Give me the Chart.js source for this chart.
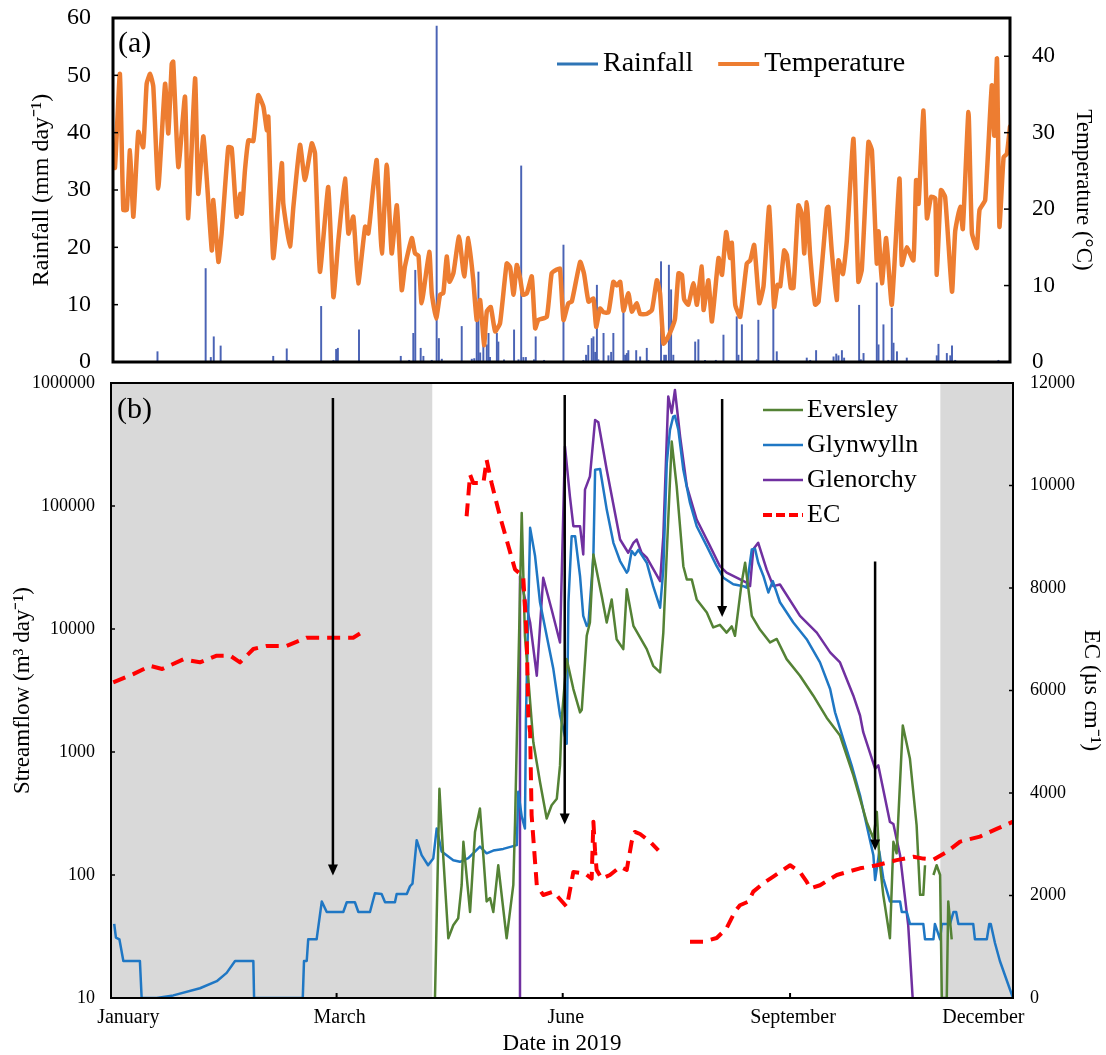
<!DOCTYPE html>
<html>
<head>
<meta charset="utf-8">
<script src="https://cdn.jsdelivr.net/npm/chart.js@4.4.0/dist/chart.umd.min.js"></script>
<style>
  body { margin: 0; background: #fff; }
  #wrap { position: relative; width: 1106px; height: 1055px; }
  canvas { position: absolute; left: 0; }
  #rain-chart { top: 0; }
  #flow-chart { top: 365px; }
</style>
</head>
<body>
<div id="wrap">
  <canvas id="rain-chart" width="1106" height="380"></canvas>
  <canvas id="flow-chart" width="1106" height="690"></canvas>
</div>
<script>
// ---- panel (a): daily rainfall and temperature (x = day of the year) ----
const rainDays = [18.1,37.7,39.8,41,43.8,65.2,70.7,71.5,84.7,89.7,90.8,91.5,100.1,117.1,120.5,122.2,123,125.2,126.3,129.7,131.7,132.6,133.8,141.9,146,147,148,148.7,149.4,150.7,152.1,152.8,153.4,156.2,156.8,159.1,163.2,165,166.1,167,168,171.3,172,175.4,183.3,191.4,192.5,193.4,194.8,195.5,196.2,196.9,197.5,199.6,201.6,202.7,203.6,207.7,208.4,209.1,209.7,212.9,214.5,217.2,217.9,223,224.3,225,226.2,227.1,228,236.9,238.2,240.9,245.3,248.4,253.8,254.5,255.9,262,262.6,268.7,270.1,270.8,282.3,283.7,286.1,293.2,294.3,295.2,296.6,297.5,303.6,304.3,305.4,310.8,311.5,313.5,315.5,316.9,317.6,319,323,335.2,335.9,339.3,340.7,341.4,342.7,360.3];
const rainValues = [1.8,16.3,0.8,4.4,2.8,1,2.3,0.3,9.7,0.3,2.2,2.4,5.6,1,0.3,5,16,2.4,1,0.3,58.6,4.1,0.5,6.2,0.5,0.6,7.3,15.7,1.6,3.5,3,5,0.8,5,3.5,0.4,5.6,0.4,34.2,0.8,0.8,0.4,4.4,0.3,20.4,0.3,1.2,2.9,4.1,4.4,1.7,13.4,0.4,5,1.1,1.7,5,10.8,1.2,1.5,2,2,0.9,2.4,0.3,17.5,1.2,1.2,16.9,12.6,1.2,3.5,3.9,0.3,0.3,4.7,7.9,1.2,6.5,0.4,7.3,9.4,1.8,0.3,0.7,0.3,2,0.9,1.4,1.1,2,0.7,9.9,0.4,1.5,13.8,3,6.5,0.3,9.4,3.3,1.8,0.7,1.1,3.1,1.5,1.1,2.8,0.3,0.3];

const tempDays = [0,0.8,2.8,4.2,5.6,6.9,8.3,10.3,12.3,13.7,15.1,16.4,18.4,21.2,22.5,23.9,24.5,26.6,29.3,30.6,33.4,34.7,36.8,40.2,40.8,42.9,44.2,46.9,48.3,50.3,51.7,52.4,53.7,55.1,57.1,59.1,61.2,62.6,63.2,65.2,68.7,69.3,72,73.4,76.1,78.1,80.9,82.2,84.2,87.6,89.7,91.7,94.4,95.8,97.8,99.8,102.6,103.9,105.9,107.3,109.4,111.4,113.4,115.5,117.5,118.8,121.6,122.9,124.3,125.6,128.7,129.7,131.5,133.1,134.4,135.8,136.9,138.5,140.8,142.9,144.6,146.6,148,149.4,151,152.1,153.7,155.5,157.5,160.2,161.6,163,164.3,165.7,166.8,168.4,170.4,171.8,173.1,176.5,178.5,180.6,181.9,183.3,185.3,186.7,190.1,191.7,193.5,195.5,196.6,198.2,199.6,201.6,203.6,205,206.4,207.7,209.7,211.1,213.1,214.5,217.2,219.3,221.3,222.6,224,225.4,227.4,228.7,230.1,231.5,232.4,234.1,236.2,237.6,239.6,240.3,242.3,243.7,246.4,247.8,249.5,251.1,251.8,253.2,255.2,257.9,259.3,260.9,263,264.7,267,269,270.4,271.5,273.1,274.2,275.8,276.9,278.9,280.3,281.3,282.3,283.7,285.7,287.1,290.5,291.1,292.5,294.5,295.2,297,298.6,301.3,303.3,304.7,307.4,308.8,310.8,311.5,312.9,314.6,316.9,320,321,323,325.7,326.8,327.8,329.8,331.2,332.9,334.6,335.2,336.9,338.6,341.4,342.7,344.7,345.8,348.1,349.5,351.5,352.6,354.9,357.6,358.6,359.7,360.7,362.4,363.7,365];
const tempValues = [28.1,25.4,37.7,19.9,19.9,27.7,19.0,30.1,28.1,36.4,37.7,36,22.7,36.4,29.9,39.0,39.3,25.5,34.7,18.8,37.1,22,29.5,14.6,21.2,13.1,16.8,28.1,28,19,22,19.4,25.1,29,28.9,34.9,33.4,30.3,32.1,13.6,26,20.7,15.1,20.3,28.4,23.8,28.6,27.3,11.8,22.9,8.5,15.9,24,16.8,19,10.3,17.7,16.8,22.9,26.4,14.2,25.8,14.2,20.5,9.4,12.5,16.2,14.2,13.9,7.7,14.4,9,5.7,8.8,9,13.8,10.5,11.6,16.4,11.2,16.2,10.7,5.5,8.1,2.2,6.6,7.2,4,5.1,12.9,12.4,8.8,12.7,10.9,8.8,9,11.2,4.4,5.5,5.9,11.6,12.1,12.2,5.5,7.7,7.9,13.1,11.5,7.9,8.3,4.6,7,6.5,6.5,10.5,10,10.5,6.7,9,6.6,7.7,6.3,6.3,6.8,10.7,9,2.4,3,4.4,5.7,11.6,11.4,8.2,7.5,10.3,7.5,12.5,6.8,10.7,5.3,13.6,11.4,17,13.6,15.6,7.5,5.9,12.9,13.3,15.3,7.7,9.9,20.3,7.2,10.1,9.9,14.6,14,9.7,9.7,20.5,19.4,14.2,20.9,13.9,7.5,7.9,20.1,20.3,14.4,8.1,13.3,11.5,15.9,29.2,10.5,12.1,28.8,27.7,12.9,17.1,10.3,16.2,7.5,24,12.7,15,13.3,23.8,20.7,32.9,18.8,21.6,21.4,11.4,22.5,21.6,9.2,17.1,20.3,17.4,32.7,16.9,14.9,19.9,21.2,36.2,29.6,39.7,17.7,26.8,27.2,30.8];

const rainTicks = [0, 10, 20, 30, 40, 50, 60];
const tempTicks = [0, 10, 20, 30, 40];

// ---- panel (b): streamflow and EC ----
const glynDays = [1.3,2,3.4,5,11.7,12.4,18.5,25.2,36,42.8,46.8,50.2,57.6,57.9,77.6,78.1,79.2,79.8,83.2,85.3,87.3,94,95.4,98.7,100.1,104.8,106.8,109.5,110.9,114.9,115.6,119.7,121,122,123.7,125.7,128.3,130.4,131.8,133.8,138.5,141.2,144.6,149.3,152,154.7,158.7,164.2,164.8,166.2,167.5,167.9,169.6,171.6,173.6,176.3,179,181.7,184.4,185.1,186.4,187.8,189.8,191.1,192.5,193.2,195.2,195.9,197.9,198.6,200.6,203.3,206,208.7,209.3,210.7,212,213.4,216.8,219.4,222.2,223.5,224.9,226.2,227.5,228.2,229.6,231.6,234.3,237,241.1,245.1,247.8,251.8,255.9,257.2,259.3,260.6,261.9,264,266,267.8,270.7,276.1,281.5,286.9,291,293,296.3,299.7,303.1,306.4,308.5,309.2,310.9,312.5,315.2,319.3,320,322,323.3,328.7,329.4,332.8,333.4,335.5,336.2,339.5,340.9,342,342.9,348.9,349.6,354.4,355.4,356,357.7,359.7,365];
const glynValues = [40,31,30,20,20,10,10,10.5,12,13.7,16,20,20,10,10,20,20,30,30,61,50,50,60,60,50,50,71,70,60,60,70,70,81,85,192,145,120,136,239,155,132,128,137,170,150,158,163,175,475,300,239,1858,66400,39200,16500,8800,4720,2000,1165,16500,56800,56800,26900,12800,10600,11000,39200,197000,200000,164000,93500,50200,35700,28700,30000,43000,40000,44000,34600,22300,14900,30500,223000,415000,533000,540000,415000,197000,106000,68500,47200,32400,26100,23100,22300,21700,44400,45000,34600,27000,19800,24500,16500,11300,8260,5350,3250,2100,1280,778,444,224,145,91,155,94,61,61,50,50,40,40,30,30,40,30,40,40,50,50,40,40,30,30,40,40,28,20,10];

const glenDays = [165.1,165.5,169.6,172.3,174.9,178.3,181.7,183.7,185.7,187.1,189.8,191.1,191.8,193.8,195.9,197.2,200.6,206,209.3,211.4,212.7,214.7,216.8,222.2,223.5,225.5,226.9,228.2,230.3,233,237,242.4,246.4,249.1,257.2,258.6,259.9,261.9,265.3,268,270.7,278.8,285.6,291,295,300.4,303.1,304.4,309.2,310.5,315.2,316.6,319.3,322.6,324.4];
const glenValues = [10,26900,11300,4170,26100,14400,7770,305000,120000,68500,68500,40400,136000,174000,501000,480000,197000,53400,41700,50200,53400,41700,38000,24500,56800,775000,571000,877000,367000,145000,77600,47200,32400,28700,23800,22300,44400,50200,30500,22300,23000,12800,9350,6460,5350,2870,1980,1450,731,778,270,260,145,39,10];

const everDays = [131.1,132.9,134.5,136.5,138.5,140.5,141.9,142.6,145.3,147.3,149.3,152,153.4,154.7,156.7,160.1,162.8,163.5,166.2,167.5,170.9,173.6,176.3,178.3,180.4,181.7,182.4,184.4,187.1,189.8,190.5,192.5,193.8,195.2,198.6,200.6,202.6,204.6,207.3,208.7,211.4,216.8,219.4,222.2,223.5,224.9,226.9,228.9,231.6,233,235,237,241.1,243.7,246.4,249.1,251.2,252.5,255.2,256.6,258.6,259.3,262.6,266.7,269.4,273.4,278.8,284.2,289.6,295,300.4,305.8,308.5,309.9,310.9,312.5,315.2,316.6,317.9,320.4,323.3,326,327.4,328.7,329.4,331,332.8,334.1,335.5,336.2,338.2,338.8,340.2];
const everValues = [10,503,136,30.6,39,44.5,83,186,50,224,347,61,65,50,120,30.6,83,270,87900,8800,1200,570,288,369,417,778,1860,5690,3250,2100,2200,8800,11300,40400,18500,11300,17400,8260,6860,21000,10600,6860,5020,4440,9350,41700,334000,145000,32400,25300,25300,17400,13600,10300,10800,9350,10500,8800,23800,34600,16500,12800,9900,7770,8300,5690,4170,2870,1900,1360,646,270,198,326,136,69,30.6,186,150,1640,881,253,69,69,120,null,100,120,100,10,10,61,30];

const ecDays = [0.9,9,15.8,20.7,29.3,36,42.8,48.2,52.2,57.6,63,71.1,79.2,90,98,101.4,120,143.9,145.3,146.6,150.7,152,154,157.4,160.8,163.5,166.8,168.2,168.9,169.6,170.2,172.3,174.9,179,184.4,185.1,187.1,191.8,194.5,195.2,195.9,196.5,198.6,201.9,206,208.7,210.7,212,214.1,218.1,221.5,228,234.3,239.7,245.1,249.1,252.5,254.5,257.9,259.9,264,268,274.8,278.8,281.5,282.9,286.9,293.7,303.1,309.9,317.9,324.7,328.7,332.8,338.2,343.6,351.6,358.4,365];
const ecValues = [6160,6320,6480,6420,6610,6550,6680,6680,6550,6810,6870,6870,7030,7030,7030,7130,null,9400,10210,10050,10050,10500,10050,9400,8820,8360,8230,7070,5450,5190,3570,2200,2010,2075,1780,1945,2460,2430,2330,3440,2850,2500,2330,2400,2560,2500,3050,3240,3200,3050,2880,null,1100,1100,1170,1360,1690,1810,1880,2075,2240,2370,2590,2460,2270,2140,2200,2400,2530,2590,2690,2755,2720,2700,2850,3050,3150,3300,3440];

const flowTicks = [10, 100, 1000, 10000, 100000, 1000000];
const ecTicks = [0, 2000, 4000, 6000, 8000, 10000, 12000];
const monthLabels = ['January', 'March', 'June', 'September', 'December'];
const monthDays = [7, 92.5, 184, 276, 353];

// grey periods and the black arrows (day, streamflow from, streamflow to)
const shadeStart = [0, 335.6];
const shadeEnd = [130, 365];
const arrowDays = [89.8, 183.6, 247.3, 309.2];
const arrowFrom = [755000, 800000, 741000, 35400];
const arrowTo = [99, 257, 12500, 158];

Chart.defaults.font.family = "'Liberation Serif', 'Times New Roman', serif";
Chart.defaults.color = '#000';

function pairs(xs, ys) {
  return xs.map((x, i) => ({ x: x, y: ys[i] }));
}

function inTicks(ctx, scale, a, side, len) {
  ctx.save();
  ctx.strokeStyle = '#000';
  ctx.lineWidth = 1.5;
  scale.ticks.forEach(t => {
    const p = scale.getPixelForValue(t.value);
    ctx.beginPath();
    if (side === 'left') { ctx.moveTo(a.left, p); ctx.lineTo(a.left + len, p); }
    else { ctx.moveTo(a.right, p); ctx.lineTo(a.right - len, p); }
    ctx.stroke();
  });
  ctx.restore();
}

function legendLine(ctx, x, y, len, color, width, dash) {
  ctx.save();
  ctx.strokeStyle = color;
  ctx.lineWidth = width;
  ctx.setLineDash(dash || []);
  ctx.beginPath();
  ctx.moveTo(x, y);
  ctx.lineTo(x + len, y);
  ctx.stroke();
  ctx.restore();
}

// grid is hidden, so tickLength only sets the gap between labels and axis
function hiddenGrid(gap) {
  return { display: false, drawTicks: true, tickLength: gap };
}

// top chart: frame, ticks, legend, panel label
const rainDecor = {
  id: 'rainDecor',
  afterDraw(chart) {
    const { ctx, chartArea: a, scales } = chart;
    inTicks(ctx, scales.y, a, 'left', 5);
    inTicks(ctx, scales.y2, a, 'right', 6);
    ctx.save();
    ctx.strokeStyle = '#000';
    ctx.lineWidth = 3;
    ctx.strokeRect(a.left, a.top, a.right - a.left, a.bottom - a.top);
    ctx.fillStyle = '#000';
    ctx.textBaseline = 'middle';
    ctx.font = "30px 'Liberation Serif'";
    ctx.fillText('(a)', a.left + 5, a.top + 26);
    ctx.font = "28px 'Liberation Serif'";
    let lx = a.right - 453;
    const ly = a.top + 46;
    chart.data.datasets.forEach(ds => {
      legendLine(ctx, lx, ly, 41, ds.borderColor, ds.legendWidth);
      ctx.fillText(ds.label, lx + 46, ly);
      lx += 46 + ctx.measureText(ds.label).width + 25;
    });
    ctx.restore();
  }
};

new Chart(document.getElementById('rain-chart'), {
  type: 'bar',
  data: {
    datasets: [{
      type: 'bar',
      label: 'Rainfall',
      data: pairs(rainDays, rainValues),
      backgroundColor: '#4a63b5',
      borderColor: '#2e75b6',
      borderWidth: 0,
      barThickness: 1.3,
      legendWidth: 3,
      yAxisID: 'y',
      order: 1
    }, {
      type: 'line',
      label: 'Temperature',
      data: pairs(tempDays, tempValues),
      borderColor: '#ed7d31',
      borderWidth: 4.5,
      borderJoinStyle: 'round',
      borderCapStyle: 'round',
      pointRadius: 0,
      tension: 0.15,
      legendWidth: 4,
      yAxisID: 'y2',
      order: 0
    }]
  },
  options: {
    responsive: false,
    animation: false,
    devicePixelRatio: 1,
    layout: { padding: { top: 18, bottom: 18, left: 0, right: 0 } },
    plugins: { legend: { display: false }, tooltip: { enabled: false } },
    scales: {
      x: { type: 'linear', min: 0, max: 365, offset: false, display: false },
      y: {
        position: 'left', min: 0, max: 60,
        afterBuildTicks: s => { s.ticks = rainTicks.map(v => ({ value: v })); },
        afterFit: s => { s.width = 113; },
        grid: hiddenGrid(22),
        border: { display: false },
        ticks: { padding: 0, font: { size: 24 } },
        title: { display: true, text: 'Rainfall (mm day\u207B\u00B9)', font: { size: 24 }, padding: { top: 27, bottom: 0 } }
      },
      y2: {
        position: 'right', min: 0, max: 45,
        afterBuildTicks: s => { s.ticks = tempTicks.map(v => ({ value: v })); },
        afterFit: s => { s.width = 96; },
        grid: hiddenGrid(22),
        border: { display: false },
        ticks: { padding: 0, font: { size: 23 } },
        title: { display: true, text: 'Temperature (\u00B0C)', font: { size: 23 }, padding: { top: 9, bottom: 0 } }
      }
    }
  },
  plugins: [rainDecor]
});

// bottom chart: grey periods, arrows, frame, legend
const flowDecor = {
  id: 'flowDecor',
  beforeDatasetsDraw(chart) {
    const { ctx, chartArea: a, scales: { x } } = chart;
    ctx.save();
    ctx.fillStyle = '#d9d9d9';
    shadeStart.forEach((s, i) => {
      const x0 = x.getPixelForValue(s);
      const x1 = x.getPixelForValue(shadeEnd[i]);
      ctx.fillRect(x0, a.top, x1 - x0, a.bottom - a.top);
    });
    ctx.restore();
  },
  afterDatasetsDraw(chart) {
    const { ctx, scales: { x, y } } = chart;
    ctx.save();
    ctx.strokeStyle = '#000';
    ctx.fillStyle = '#000';
    ctx.lineWidth = 2.5;
    arrowDays.forEach((d, i) => {
      const px = x.getPixelForValue(d);
      const y0 = y.getPixelForValue(arrowFrom[i]);
      const y1 = y.getPixelForValue(arrowTo[i]);
      ctx.beginPath();
      ctx.moveTo(px, y0);
      ctx.lineTo(px, y1 - 9);
      ctx.stroke();
      ctx.beginPath();
      ctx.moveTo(px - 5, y1 - 11);
      ctx.lineTo(px + 5, y1 - 11);
      ctx.lineTo(px, y1);
      ctx.closePath();
      ctx.fill();
    });
    ctx.restore();
  },
  afterDraw(chart) {
    const { ctx, chartArea: a, scales } = chart;
    inTicks(ctx, scales.y, a, 'left', 4);
    inTicks(ctx, scales.y2, a, 'right', 4);
    ctx.save();
    ctx.strokeStyle = '#000';
    ctx.lineWidth = 2;
    ctx.strokeRect(a.left, a.top, a.right - a.left, a.bottom - a.top);
    // month tick marks (March, June, September)
    [1, 2, 3].forEach(i => {
      const px = scales.x.getPixelForValue(monthDays[i]) - 3;
      ctx.beginPath();
      ctx.moveTo(px, a.bottom);
      ctx.lineTo(px, a.bottom - 5);
      ctx.stroke();
    });
    ctx.fillStyle = '#000';
    ctx.textBaseline = 'middle';
    ctx.font = "30px 'Liberation Serif'";
    ctx.fillText('(b)', a.left + 6, a.top + 27);
    ctx.font = "26px 'Liberation Serif'";
    chart.data.datasets.forEach((ds, i) => {
      const ly = a.top + 27 + i * 35;
      legendLine(ctx, a.right - 250, ly, 40, ds.borderColor, ds.borderDash ? 4 : 2.5, ds.borderDash ? [9, 4] : []);
      ctx.fillText(ds.label, a.right - 206, ly);
    });
    ctx.restore();
  }
};

new Chart(document.getElementById('flow-chart'), {
  type: 'line',
  data: {
    datasets: [{
      label: 'Eversley',
      data: pairs(everDays, everValues),
      borderColor: '#548235',
      borderWidth: 2.5,
      yAxisID: 'y',
      order: 1
    }, {
      label: 'Glynwylln',
      data: pairs(glynDays, glynValues),
      borderColor: '#1f77c4',
      borderWidth: 2.5,
      yAxisID: 'y',
      order: 2
    }, {
      label: 'Glenorchy',
      data: pairs(glenDays, glenValues),
      borderColor: '#7030a0',
      borderWidth: 2.5,
      yAxisID: 'y',
      order: 3
    }, {
      label: 'EC',
      data: pairs(ecDays, ecValues),
      borderColor: '#ff0000',
      borderWidth: 4,
      borderDash: [13, 8],
      yAxisID: 'y2',
      order: 0
    }]
  },
  options: {
    responsive: false,
    animation: false,
    devicePixelRatio: 1,
    layout: { padding: { top: 18, bottom: 0, left: 0, right: 0 } },
    elements: { point: { radius: 0 }, line: { tension: 0, borderJoinStyle: 'round' } },
    plugins: { legend: { display: false }, tooltip: { enabled: false } },
    scales: {
      x: {
        type: 'linear', min: 0, max: 365,
        afterBuildTicks: s => { s.ticks = monthDays.map(v => ({ value: v })); },
        afterFit: s => { s.height = 57; },
        grid: { display: false, drawTicks: false },
        border: { display: false },
        ticks: { autoSkip: false, maxRotation: 0, padding: 8, font: { size: 20 }, callback: (v, i) => monthLabels[i] },
        title: { display: true, text: 'Date in 2019', font: { size: 23, lineHeight: 1 }, padding: { top: 0, bottom: 0 } }
      },
      y: {
        type: 'logarithmic', position: 'left', min: 10, max: 1000000,
        afterBuildTicks: s => { s.ticks = flowTicks.map(v => ({ value: v })); },
        afterFit: s => { s.width = 111; },
        grid: hiddenGrid(16),
        border: { display: false },
        ticks: { padding: 0, font: { size: 18 }, callback: v => String(v) },
        title: { display: true, text: 'Streamflow (m\u00B3 day\u207B\u00B9)', font: { size: 23 }, padding: { top: 9, bottom: 0 } }
      },
      y2: {
        type: 'linear', position: 'right', min: 0, max: 12000,
        afterBuildTicks: s => { s.ticks = ecTicks.map(v => ({ value: v })); },
        afterFit: s => { s.width = 93; },
        grid: hiddenGrid(17),
        border: { display: false },
        ticks: { padding: 0, font: { size: 18 }, callback: v => String(v) },
        title: { display: true, text: 'EC (\u00B5s cm\u207B\u00B9)', font: { size: 23 }, padding: { top: 1, bottom: 0 } }
      }
    }
  },
  plugins: [flowDecor]
});
</script>
</body>
</html>
